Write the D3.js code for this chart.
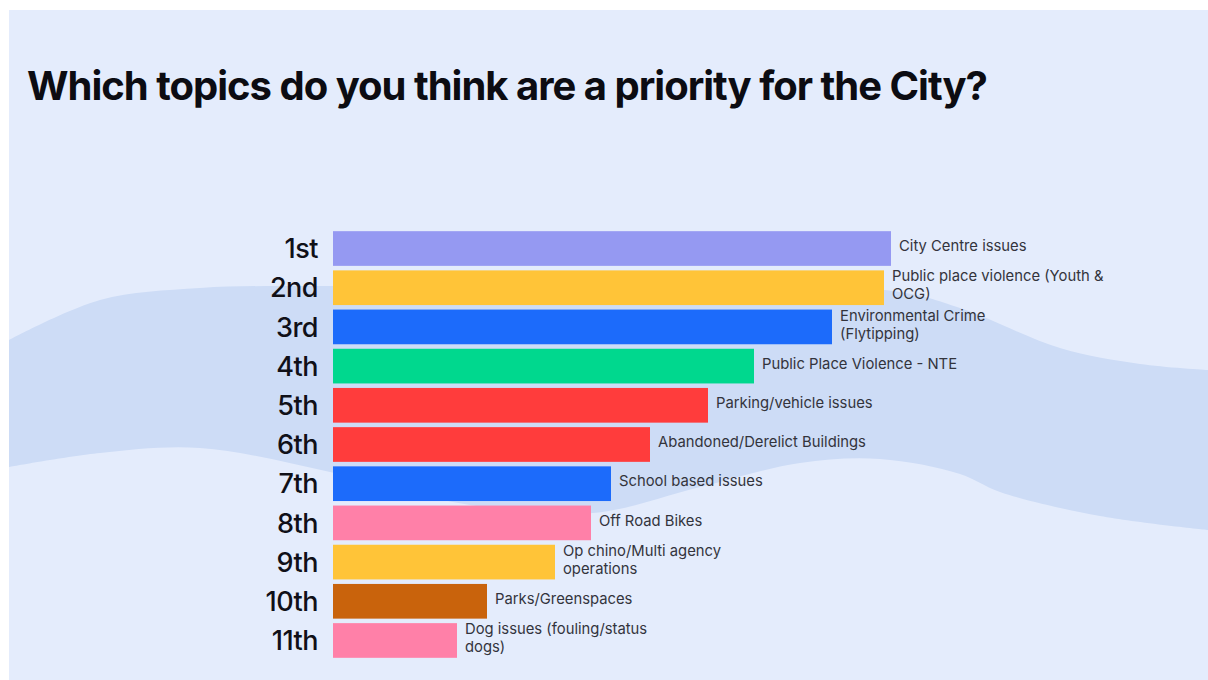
<!DOCTYPE html>
<html>
<head>
<meta charset="utf-8">
<script src="https://cdn.jsdelivr.net/npm/d3@7"></script>
<style>
  html, body { margin: 0; padding: 0; background: #ffffff; }
  svg { display: block; }
</style>
</head>
<body>
<svg width="1208" height="680"></svg>
<script>
        // Chart data (bar lengths, arbitrary score units).
        const ranks = ["1st", "2nd", "3rd", "4th", "5th", "6th", "7th", "8th", "9th", "10th", "11th"];
        const topics = [
            "City Centre issues",
            "Public place violence (Youth &\nOCG)",
            "Environmental Crime\n(Flytipping)",
            "Public Place Violence - NTE",
            "Parking/vehicle issues",
            "Abandoned/Derelict Buildings",
            "School based issues",
            "Off Road Bikes",
            "Op chino/Multi agency\noperations",
            "Parks/Greenspaces",
            "Dog issues (fouling/status\ndogs)"
        ];
        const scores = [558, 551, 499, 421, 375, 317, 278, 258, 222, 154, 124];
        const barColors = ["#9599f2", "#ffc438", "#1c6bfb", "#00d88e", "#ff3c3c", "#ff3c3c",
                           "#1c6bfb", "#ff80a8", "#ffc438", "#c9630c", "#ff80a8"];

        const svg = d3.select("svg");
        const width = 1208, height = 680;

        // Panel background.
        svg.append("rect")
            .attr("x", 9).attr("y", 10)
            .attr("width", width - 9).attr("height", height - 10)
            .attr("fill", "#e4ecfc");

        // Decorative wave band behind the bars.
        const waveTop = [[9, 340], [100, 300], [200, 288], [330, 286], [600, 287], [893, 291],
                         [960, 308], [1060, 348], [1140, 364], [1208, 370]];
        const waveBottom = [[1208, 530], [1100, 516], [1000, 492], [960, 474], [880, 459], [800, 463],
                            [700, 487], [593, 513], [470, 505], [330, 472], [200, 448], [100, 453], [9, 467]];
        const curve = d3.line().curve(d3.curveCatmullRom.alpha(0.5));
        svg.append("path")
            .attr("d", curve(waveTop) + "L" + curve(waveBottom).slice(1) + "Z")
            .attr("fill", "#cddcf6");

        // Title.
        const title = svg.append("text")
            .attr("x", 27).attr("y", 100)
            .attr("font-family", "Inter, 'Noto Sans', sans-serif")
            .attr("font-weight", 700)
            .attr("font-size", 40)
            .attr("fill", "#0c0c12")
            .text("Which topics do you think are a priority for the City?");
        // Tighten letter spacing so the title spans the same width as the reference.
        const tw = title.node().getComputedTextLength();
        const n = title.text().length;
        title.attr("letter-spacing", ((961 - tw) / (n - 1)).toFixed(2));

        // Scales.
        const x = d3.scaleLinear()
            .domain([0, d3.max(scores)])
            .range([333, 891]);
        const y = d3.scaleBand()
            .domain(ranks)
            .range([230, 659])
            .paddingInner(0.115)
            .paddingOuter(0.03);

        const rows = svg.append("g")
            .selectAll("g")
            .data(ranks)
            .join("g");

        rows.append("rect")
            .attr("x", x(0))
            .attr("y", d => y(d))
            .attr("width", (d, i) => x(scores[i]) - x(0))
            .attr("height", y.bandwidth())
            .attr("fill", (d, i) => barColors[i]);

        // Rank labels on the left.
        rows.append("text")
            .attr("x", 318)
            .attr("y", d => y(d) + y.bandwidth() / 2)
            .attr("dy", "0.36em")
            .attr("text-anchor", "end")
            .attr("font-family", "Inter, 'Noto Sans', sans-serif")
            .attr("font-weight", 500)
            .attr("font-size", 27)
            .attr("letter-spacing", -0.5)
            .attr("fill", "#101018")
            .text(d => d);

        // Topic labels at the end of each bar.
        rows.append("text")
            .attr("font-family", "Inter, 'Noto Sans', sans-serif")
            .attr("font-size", 14.8)
            .attr("fill", "#33343c")
            .each(function (d, i) {
                const lines = topics[i].split("\n");
                const cy = y(d) + y.bandwidth() / 2 - 2.5;
                const lh = 18;
                const t = d3.select(this);
                lines.forEach((line, j) => {
                    t.append("tspan")
                        .attr("x", x(scores[i]) + 8)
                        .attr("y", cy + (j - (lines.length - 1) / 2) * lh)
                        .attr("dy", "0.35em")
                        .text(line);
                });
            });
</script>
</body>
</html>
